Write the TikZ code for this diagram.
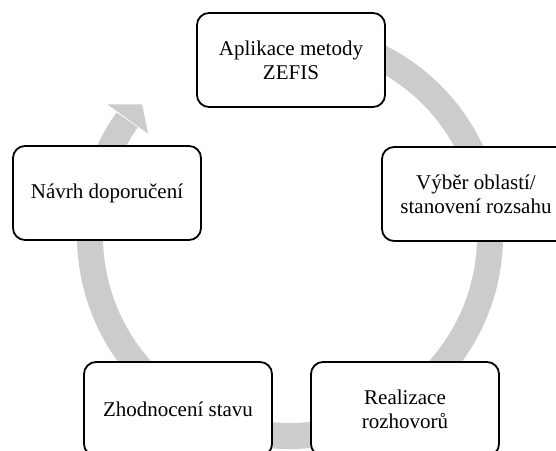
\documentclass[tikz,border=0pt]{standalone}
\usepackage{fontspec}
\setmainfont{Liberation Serif}
\usetikzlibrary{calc}
\definecolor{ringgray}{HTML}{CCCCCC}
\tikzset{
  x=1pt, y=1pt,
  stagebox/.style={draw=black, line width=1.8pt, rounded corners=12pt, fill=white,
    minimum width=188pt, minimum height=94pt, align=center, inner sep=0pt,
    font=\fontsize{21}{24}\selectfont},
  ring/.style={line width=26pt, draw=ringgray},
  ringhead/.style={fill=ringgray}
}
\begin{document}
\begin{tikzpicture}
  \useasboundingbox (0,0) rectangle (556,450);
  \coordinate (c) at (290,214);

  % circular arrow running clockwise behind the stages
  \draw[ring] ($(c)+(100:200)$) arc[start angle=100, end angle=-215.5, radius=200];
  \fill[ringhead] ($(c)+(144.2:225)$) -- ($(c)+(138.3:198)$) -- ($(c)+(144.2:175)$) -- cycle;

  % stages of the cycle
  \node[stagebox] (zefis)   at (291,390) {Aplikace metody\\ZEFIS};
  \node[stagebox] (vyber)   at (476,256) {Výběr oblastí/\\stanovení rozsahu};
  \node[stagebox] (realiz)  at (405,41)  {Realizace\\rozhovorů};
  \node[stagebox] (zhodn)   at (178,41)  {Zhodnocení stavu};
  \node[stagebox] (navrh)   at (107,257) {Návrh doporučení};
\end{tikzpicture}
\end{document}
